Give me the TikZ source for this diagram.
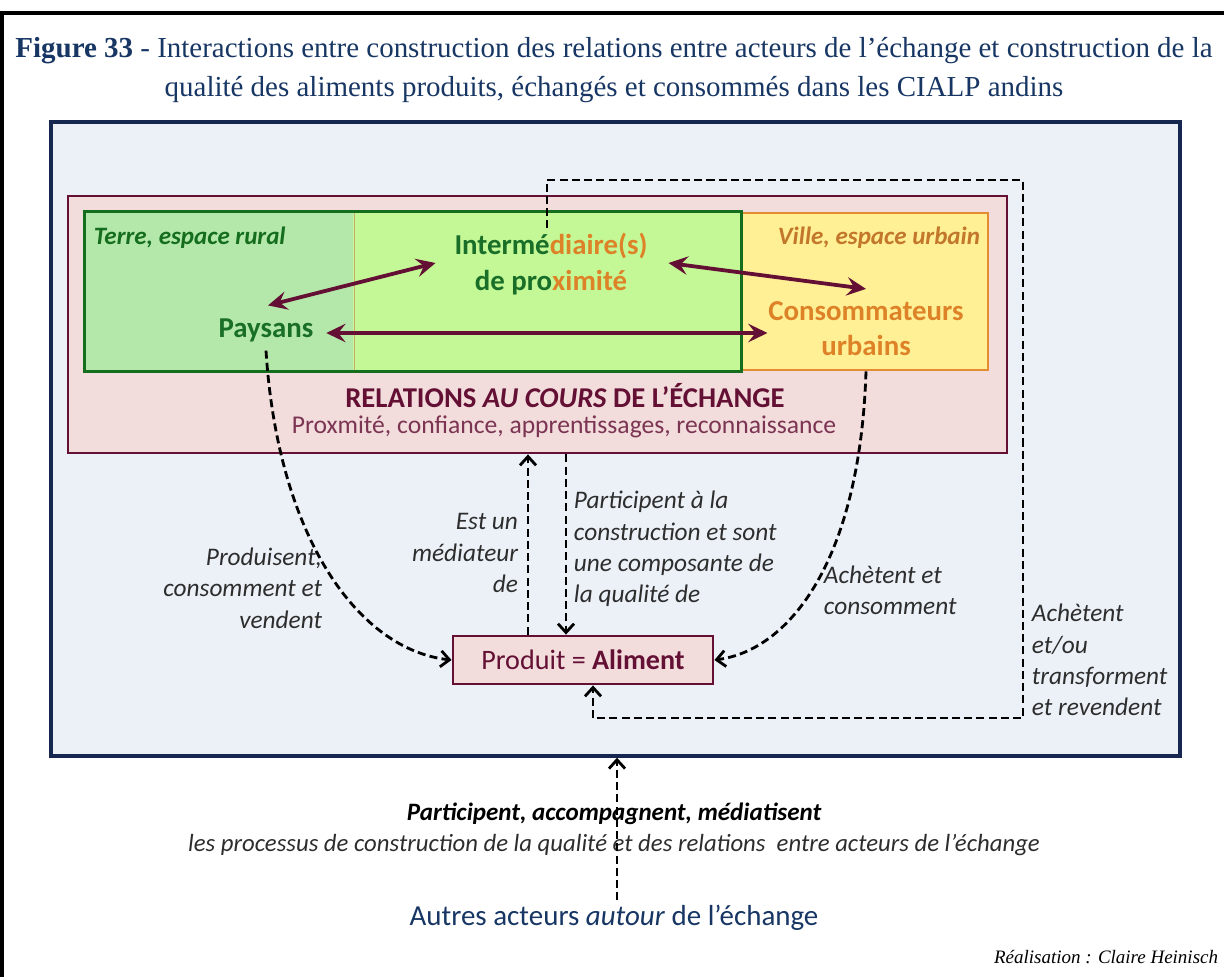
\documentclass[tikz,border=0pt]{standalone}
\usepackage{fontspec}
\setmainfont{Carlito}
\newfontfamily\titlefont{Liberation Serif}
\usetikzlibrary{arrows.meta, positioning, calc, fit}
\definecolor{titleblue}{RGB}{23,54,100}
\definecolor{frameblue}{RGB}{22,40,80}
\definecolor{paleblue}{RGB}{236,241,248}
\definecolor{relpink}{RGB}{242,220,220}
\definecolor{relmaroon}{RGB}{100,16,52}
\definecolor{ruralgreen}{RGB}{180,232,170}
\definecolor{proxgreen}{RGB}{196,248,150}
\definecolor{zonegreen}{RGB}{20,110,30}
\definecolor{urbanyellow}{RGB}{255,240,150}
\definecolor{zoneorange}{RGB}{228,140,50}
\definecolor{txtgreen}{RGB}{25,110,40}
\definecolor{txtorange}{RGB}{222,130,40}
\definecolor{divtan}{RGB}{200,170,110}
\definecolor{labelgray}{RGB}{45,45,45}

\begin{document}
\begin{tikzpicture}[
    x=0.025cm, y=-0.025cm,
    zone/.style={rectangle, inner sep=0pt, line width=2pt},
    actor/.style={align=center, font=\fontsize{20.5}{25}\selectfont\bfseries},
    place/.style={font=\fontsize{17.8}{20}\selectfont\bfseries\itshape},
    lbl/.style={text=labelgray, font=\fontsize{18}{22.3}\selectfont\itshape},
    relarrow/.style={{Stealth[length=4.8mm, width=4.6mm, inset=1.8mm]}-{Stealth[length=4.8mm, width=4.6mm, inset=1.8mm]}, line width=2.7pt, relmaroon},
    dasharrow/.style={-{Straight Barb[length=2.2mm, width=4mm]}, line width=2pt, dash pattern=on 5.7pt off 3pt}
]
\useasboundingbox (0,0) rectangle (1224,976);
\draw[line width=2.2pt] (2,13) rectangle (1230,985);

% Title
\node[text=titleblue, align=center, font=\titlefont\fontsize{20.6}{28}\selectfont] (title) at (614,70) {\textbf{Figure 33} - Interactions entre construction des relations entre acteurs de l’échange et construction de la\\qualité des aliments produits, échangés et consommés dans les CIALP andins};

% Boxes
\node[zone, fit={(51,122) (1180,756)}, draw=frameblue, fill=paleblue, line width=2.4pt] (scene) {};
\node[zone, fit={(68,196) (1007,453)}, draw=relmaroon, fill=relpink] (relbox) {};
\node[zone, fit={(740,213) (988,370)}, draw=zoneorange, fill=urbanyellow] (city) {};
\node[zone, fit={(86,213) (353,370)}, fill=ruralgreen] (rural) {};
\node[zone, fit={(353,213) (740,370)}, fill=proxgreen] (prox) {};
\draw[divtan, line width=1pt] (rural.north east) -- (rural.south east);
\node[zone, fit={(rural) (prox)}, draw=zonegreen] (country) {};

% Places and actors
\node[place, text=zonegreen, anchor=west] (terre) at (89,238) {Terre, espace rural};
\node[place, text=zoneorange!85!black, anchor=east] (ville) at (985,238) {Ville, espace urbain};
\node[actor, text=txtgreen] (paysans) at (266,330) {Paysans};
\node[actor] (inter) at (551,264) {{\color{txtgreen}Intermé}{\color{txtorange}diaire(s)}\\{\color{txtgreen}de pro}{\color{txtorange}ximité}};
\node[actor, text=txtorange] (conso) at (866,329) {Consommateurs\\urbains};

% Relations
\node[text=relmaroon, font=\fontsize{20.4}{24}\selectfont\bfseries] (relations) at (565,396) {RELATIONS \textit{AU COURS} DE L’ÉCHANGE};
\node[text=relmaroon!85, font=\fontsize{18.2}{22}\selectfont] (qualif) at (564,427) {Proxmité, confiance, apprentissages, reconnaissance};

% Product
\node[zone, draw=relmaroon, fill=relpink, minimum width=6.5cm, minimum height=1.2cm, text=relmaroon, font=\fontsize{20}{24}\selectfont] (produit) at (583,660) {Produit = \textbf{Aliment}};

% Arrows between actors
\draw[relarrow] ($(paysans.north)+(2,-8)$) -- ($(inter.west)+(-14,-1)$);
\draw[relarrow] ($(inter.east)+(16,-1)$) -- ($(conso.north)+(0,-8)$);
\draw[relarrow] ($(paysans.east)+(8,3)$) -- ($(paysans.east -| conso.west)+(4,3)$);

% Dashed arrows
\coordinate (loopne) at (1023,180);
\coordinate (loopse) at (1023,718);
\coordinate (lowx) at ($(produit.south)+(10,0)$);
\draw[dasharrow] ($(paysans.south)+(0,4)$) .. controls (278,540) and (360,650) .. (produit.west);
\draw[dasharrow] (conso |- city.south) .. controls (860,560) and (790,650) .. (produit.east);
\draw[dasharrow] ($(produit.north)+(-55,0)$) -- ($(produit.north |- relbox.south)+(-55,0)$);
\draw[dasharrow] ($(produit.north |- relbox.south)+(-17,0)$) -- ($(produit.north)+(-17,0)$);
\draw[dasharrow] ($(inter.north)+(-4,0)$) |- (loopne) -- (loopse) -| (lowx);

% Labels
\node[lbl, align=right, anchor=east] (produisent) at (327,588) {Produisent,\\consomment et\\vendent};
\node[lbl, align=right, anchor=east] (mediateur) at (523,553) {Est un\\médiateur\\de};
\node[lbl, align=left, anchor=west] (participent) at (569,549) {Participent à la\\construction et sont\\une composante de\\la qualité de};
\node[lbl, align=left, anchor=west] (achetent) at (819,590) {Achètent et\\consomment};
\node[lbl, align=left, anchor=west] (revendent) at (1027,660) {Achètent\\et/ou\\transforment\\et revendent};

% Around the exchange
\node[font=\fontsize{17.8}{20}\selectfont\bfseries\itshape] (accomp) at (614,814) {Participent, accompagnent, médiatisent};
\node[text=labelgray, font=\fontsize{17.6}{20}\selectfont\itshape] (processus) at (614,845) {les processus de construction de la qualité et des relations\ \ entre acteurs de l’échange};
\node[text=titleblue, font=\fontsize{20.6}{24}\selectfont] (autres) at (614,918) {Autres acteurs \textit{autour} de l’échange};
\draw[dasharrow] ($(autres.north)+(3,0)$) -- ($(autres.north |- scene.south)+(3,0)$);
\node[anchor=east, font=\titlefont\itshape\fontsize{13.5}{16}\selectfont] (credit) at (1223,957) {Réalisation : Claire Heinisch};

\end{tikzpicture}
\end{document}
